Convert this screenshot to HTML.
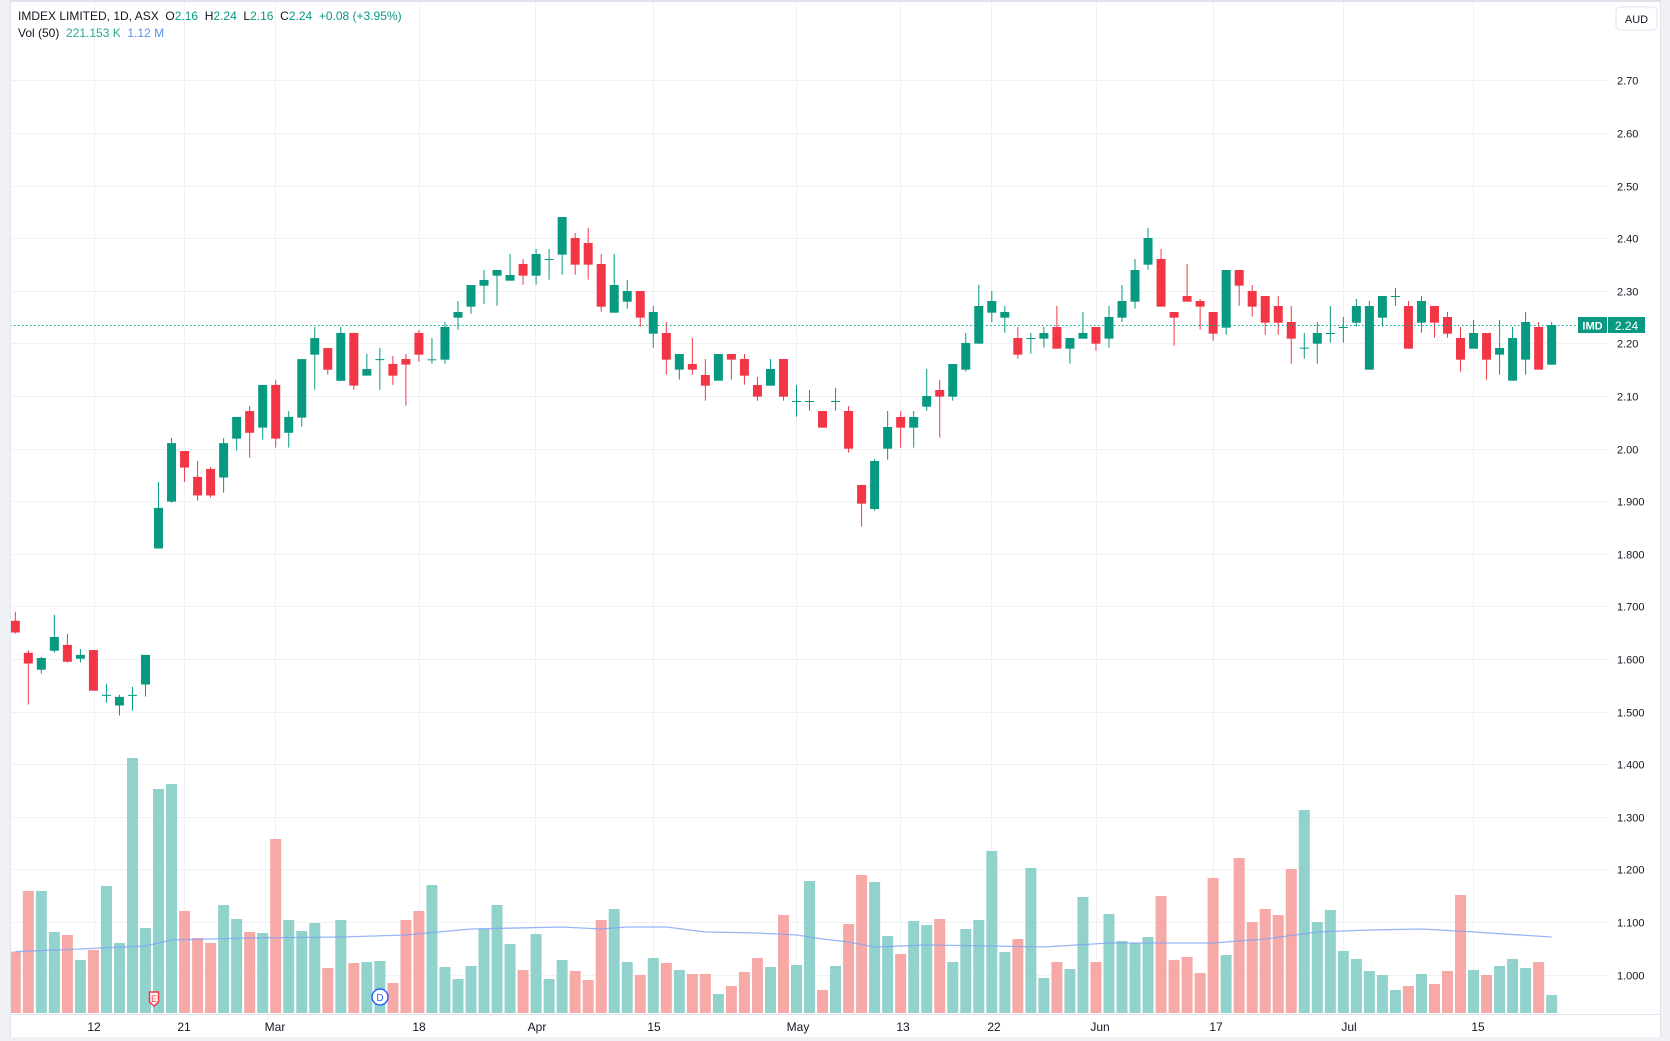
<!DOCTYPE html>
<html><head><meta charset="utf-8"><style>
html,body{margin:0;padding:0;background:#fff;}
body{width:1670px;height:1041px;overflow:hidden;position:relative;font-family:"Liberation Sans",sans-serif;}
svg{position:absolute;left:0;top:0;}
</style></head><body>
<svg id="c" width="1670" height="1041" xmlns="http://www.w3.org/2000/svg">
<rect x="0" y="0" width="1670" height="1041" fill="#fff"/>
<g id="grid" stroke="#f0f1f4" stroke-width="1"></g>
<g id="vol"></g>
<polyline id="ma" fill="none" stroke="#7ea4f4" stroke-width="1.3" stroke-opacity="0.8"/>
<g id="cdl"></g>
<line x1="10" y1="325.5" x2="1578" y2="325.5" stroke="#089981" stroke-width="1" stroke-dasharray="1.5 2.5"/>
<rect x="1578" y="317" width="29" height="16" fill="#089981"/>
<rect x="1608" y="317" width="37" height="16" fill="#089981"/>
<text x="1592.5" y="329.5" font-size="11" fill="#fff" text-anchor="middle" font-weight="bold">IMD</text>
<text x="1626.5" y="330" font-size="12" fill="#fff" text-anchor="middle">2.24</text>
<g id="plab" font-size="11" fill="#131722"></g>
<rect x="0" y="0" width="1670" height="2" fill="#e0e3eb"/>
<rect x="0" y="0" width="10" height="1041" fill="#f0f1f5"/>
<rect x="10" y="0" width="1" height="1041" fill="#e0e3eb"/>
<rect x="1661" y="0" width="9" height="1041" fill="#f0f1f5"/>
<rect x="1660" y="0" width="1" height="1041" fill="#e0e3eb"/>
<rect x="10" y="1014" width="1650" height="1" fill="#e0e3eb"/>
<rect x="0" y="1037" width="1670" height="4" fill="#f0f1f5"/>
<rect x="1616" y="7" width="41" height="23" rx="4" fill="#fff" stroke="#e0e3eb"/>
<text x="1636.5" y="23" font-size="11" fill="#131722" text-anchor="middle">AUD</text>
<g font-size="12" fill="#131722" text-anchor="middle">
<text x="94" y="1031">12</text><text x="184" y="1031">21</text><text x="275" y="1031">Mar</text>
<text x="419" y="1031">18</text><text x="537" y="1031">Apr</text><text x="654" y="1031">15</text>
<text x="798" y="1031">May</text><text x="903" y="1031">13</text><text x="994" y="1031">22</text>
<text x="1100" y="1031">Jun</text><text x="1216" y="1031">17</text><text x="1349" y="1031">Jul</text>
<text x="1478" y="1031">15</text>
</g>
<path d="M149.5 992 h9 v10 l-4.5 4 l-4.5 -4 z" fill="#fff" stroke="#f23645" stroke-width="1.5"/>
<text x="154" y="1002" font-size="9" fill="#f23645" text-anchor="middle">E</text>
<circle cx="380" cy="997" r="8" fill="#fff" stroke="#2962ff" stroke-width="1.5"/>
<text x="380" y="1001" font-size="10" fill="#2962ff" text-anchor="middle">D</text>
<g font-size="12">
<text x="18" y="20" fill="#131722">IMDEX LIMITED, 1D, ASX&#160;&#160;O<tspan fill="#089981">2.16</tspan>&#160;&#160;H<tspan fill="#089981">2.24</tspan>&#160;&#160;L<tspan fill="#089981">2.16</tspan>&#160;&#160;C<tspan fill="#089981">2.24</tspan>&#160;&#160;<tspan fill="#089981">+0.08 (+3.95%)</tspan></text>
<text x="18" y="37" fill="#131722">Vol (50)&#160;&#160;<tspan fill="#22ab94">221.153 K</tspan>&#160;&#160;<tspan fill="#5b8ff9">1.12 M</tspan></text>
</g>
</svg>
<script>
var NS="http://www.w3.org/2000/svg";
function el(p,t,a){var e=document.createElementNS(NS,t);for(var k in a)e.setAttribute(k,a[k]);p.appendChild(e);return e;}
var grid=document.getElementById('grid'),plab=document.getElementById('plab');
for(var k=0;k<=17;k++){var p=2.7-k*0.1;var y=343.3+(2.2-p)*526;y=Math.round(y)+0.5;
 el(grid,'line',{x1:11,y1:y,x2:1610,y2:y});
 var t=el(plab,'text',{x:1617,y:y+4});t.textContent=p>=1.95?p.toFixed(2):p.toFixed(3);}
[94,184,275,419,535,653,796,900,991,1096,1213,1343,1473].forEach(function(x){el(grid,'line',{x1:x+0.5,y1:2,x2:x+0.5,y2:1014});});
var A=[
['r',1222,1256,1196,1259],['r',1315,1346,1307,1465],['g',1330,1364,1327,1375],['g',1269,1309,1205,1314],['r',1292,1341,1260,1343],
['g',1321,1332,1304,1343],['r',1307,1425,1307,1425],['g',1437,1440,1405,1460],['g',1443,1468,1437,1497],['g',1437,1440,1414,1483],
['g',1321,1407,1321,1442],['g',894,1012,819,1012],['g',706,876,691,879],['r',729,777,729,819],['r',804,858,758,873],
['r',781,858,775,864],['g',706,806,691,850],['g',630,693,630,728],['r',613,676,598,748],['g',537,661,537,696],
['r',537,693,523,719],['g',630,676,613,719],['g',462,632,462,658],['g',401,449,369,551],['r',430,493,430,507],
['g',386,525,369,525],['r',386,539,386,551],['g',491,510,447,510],['g',462,465,430,551],['r',476,510,453,537]];
var B=[
['r',477,494,462,617],['r',399,464,390,485],['g',478,481,414,491],['g',381,479,366,491],['g',336,353,303,389],
['g',255,320,255,341],['g',240,257,210,312],['g',210,227,210,317],['g',225,242,162,242],['r',192,227,177,254],
['g',162,227,147,254],['g',177,180,147,239],['g',51,164,51,224],['r',114,194,99,224],['r',129,194,84,239],
['r',192,320,162,335],['g',255,338,162,338],['g',273,305,240,326],['r',273,353,273,380],['g',336,401,318,443],
['r',399,479,366,524],['g',462,509,462,539],['r',492,509,414,524],['r',525,557,477,602],['g',462,542,462,542],
['r',462,479,462,539],['r',477,527,462,554],['r',555,590,531,602],['g',507,557,477,557],['r',477,590,477,602],
['g',603,606,555,650],['g',603,606,570,632],
['r',633,683,633,683],['g',603,606,564,632],['r',633,746,618,758],['r',855,911,855,980],['g',783,927,777,932],
['g',681,746,633,779],['r',651,683,633,743],['g',651,683,633,743],['g',588,620,507,632],['r',570,590,540,713],
['g',492,590,492,602],['g',429,509,399,515],['g',318,431,255,431],['g',303,338,273,366],['g',336,353,318,398],
['r',414,464,381,476],['g',414,417,399,461],['g',399,416,381,443],['r',381,446,318,446],['g',414,446,414,491],
['g',399,416,336,416],['r',381,431,381,452],['g',351,416,318,443],['g',303,353,255,366],['g',210,305,177,326],
['g',114,194,84,209],['r',177,320,147,320],['r',336,353,336,437],['r',288,305,192,305],['r',303,320,297,389],
['r',336,401,336,422],
['g',210,383,210,404],['r',210,257,210,317],['r',273,320,255,350],['r',288,368,288,404],['r',318,368,288,404],
['r',366,416,318,491],['g',443,446,399,476],['g',399,431,366,491],['g',399,402,318,428],['g',381,384,351,428],
['g',318,368,297,380],['g',318,509,303,509],['g',288,353,288,380],['g',288,291,264,317],['r',318,446,303,446],
['g',303,368,288,398],['r',318,368,318,413],['r',351,401,336,413],['r',414,479,381,515],['g',399,446,360,446],
['r',399,479,399,539],['g',444,464,360,524],['g',414,542,381,542],['g',366,479,336,524],['r',381,509,366,509],
['g',375,494,366,494]];
var C=[];A.forEach(function(c){C.push([c[0],200+c[1]/2.904,200+c[2]/2.904,200+c[3]/2.904,200+c[4]/2.904]);});
B.forEach(function(c){C.push([c[0],200+c[1]/3,200+c[2]/3,200+c[3]/3,200+c[4]/3]);});
var V=[605,423,423,546,555,630,600,408,579,24,534,117,102,483,564,579,465,507,546,549,267,510,543,519,654,510,639,636,633,699,
510,483,405,651,687,648,537,465,582,660,552,687,630,663,690,510,477,636,675,624,639,660,672,672,732,708,666,624,651,495,
645,393,720,648,522,375,396,558,612,513,525,507,636,537,510,303,606,567,354,684,636,657,441,636,492,573,579,561,438,630,
621,669,384,615,324,516,477,495,357,180,516,480,603,627,663,675,720,708,672,702,663,435,660,675,648,627,654,636,735];
var cg=document.getElementById('cdl'),vg=document.getElementById('vol');
C.forEach(function(c,i){var x=15.3+13.02*i;var col=c[0]=='g'?'#089981':'#f23645';
 el(cg,'rect',{x:(x-0.5).toFixed(2),y:c[3].toFixed(2),width:1,height:Math.max(1,c[4]-c[3]).toFixed(2),fill:col});
 el(cg,'rect',{x:(x-4.5).toFixed(2),y:c[1].toFixed(2),width:9,height:Math.max(1,c[2]-c[1]).toFixed(2),fill:col});
 var vt=750+V[i]/3;
 el(vg,'rect',{x:(x-5.5).toFixed(2),y:vt.toFixed(2),width:11,height:(1013-vt).toFixed(2),fill:c[0]=='g'?'#92d2cc':'#f7a9a7'});
});
var M=[[0,951.7],[5,949],[10,946],[12,940],[18,938],[25,937],[30,935],[35,929],[42,927],[45,929],[47,927],[50,927],[53,932],[57,933],[60,935],[62,939],[64,942],[66,947],[70,945],[75,946],[79,947],[84,943],[88,943],[92,943],[96,939],[100,932],[104,930],[108,929],[112,932],[118,937]];
document.getElementById('ma').setAttribute('points',M.map(function(m){return (15.3+13.02*m[0]).toFixed(1)+','+m[1];}).join(' '));
</script>
</body></html>
